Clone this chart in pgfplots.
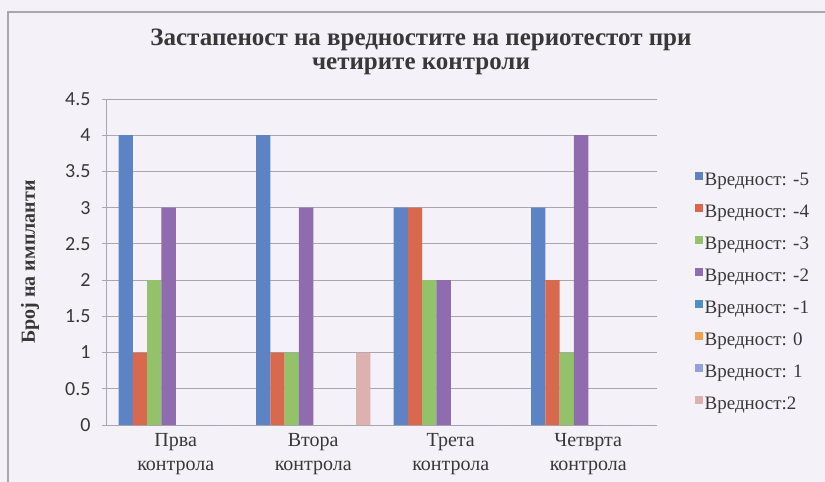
\documentclass[border=0pt]{standalone}
\usepackage{fontspec}
\setmainfont{Liberation Serif}
\newfontfamily\tickfont{Carlito}
\usepackage{pgfplots}
\pgfplotsset{compat=1.18}
\definecolor{bgc}{HTML}{F4F1F8}
\definecolor{cA}{HTML}{5E83C4}
\definecolor{cB}{HTML}{D8684E}
\definecolor{cC}{HTML}{93C26A}
\definecolor{cD}{HTML}{8E6CAE}
\definecolor{cE}{HTML}{4F8FC8}
\definecolor{cF}{HTML}{F0A050}
\definecolor{cG}{HTML}{8FA3DA}
\definecolor{cH}{HTML}{DDB2AE}
\definecolor{txt}{HTML}{383838}
\definecolor{gridc}{HTML}{A8A6AE}
\begin{document}
\begin{tikzpicture}[x=1pt,y=1pt]
\useasboundingbox (0,0) rectangle (825,482);
\fill[bgc] (0,0) rectangle (825,482);
\draw[gridc, line width=1.2pt] (825,470) -- (8,470) -- (8,0);
\node[font=\fontsize{25}{24}\selectfont\bfseries, align=center, text=txt] at (421,430) {Застапеност на вредностите на периотестот при\\четирите контроли};
\begin{axis}[
  at={(107pt,57pt)}, anchor=south west,
  scale only axis, width=550pt, height=326pt,
  ybar=0pt, bar width=14.3pt,
  xmin=-0.5, xmax=3.5, ymin=0, ymax=4.5,
  xtick={0,1,2,3},
  xticklabels={{Прва\\контрола},{Втора\\контрола},{Трета\\контрола},{Четврта\\контрола}},
  xticklabel style={align=center, font=\fontsize{20}{24}\selectfont, text=txt},
  ytick={0,0.5,1,1.5,2,2.5,3,3.5,4,4.5},
  yticklabel style={font=\tickfont\fontsize{20}{22}\selectfont, text=txt, xshift=-8pt},
  /pgf/number format/assume math mode=true,
  axis x line*=bottom, axis y line*=left,
  axis line style={gridc, line width=1pt},
  ymajorgrids, grid style={gridc, line width=0.9pt},
  major tick length=5pt, tick align=outside,
  xtick style={draw=none}, ytick style={gridc, line width=0.9pt},
  ylabel={Број на импланти},
  ylabel style={font=\bfseries\fontsize{20}{24}\selectfont, text=txt, at={(axis description cs:-0.14,0.5)}, anchor=center},
  legend style={at={(1.0636,0.79)}, anchor=north west, draw=none, fill=none,
    font=\fontsize{19}{22}\selectfont, text=txt, row sep=12pt,
    nodes={inner sep=1.5pt, text height=14pt, text depth=3pt}},
  legend cell align=left,
  legend image code/.code={\fill[#1] (0pt,0pt) rectangle (8pt,8pt);},
]
\addplot[fill=cA, draw=none] coordinates {(0,4) (1,4) (2,3) (3,3)};
\addplot[fill=cB, draw=none] coordinates {(0,1) (1,1) (2,3) (3,2)};
\addplot[fill=cC, draw=none] coordinates {(0,2) (1,1) (2,2) (3,1)};
\addplot[fill=cD, draw=none] coordinates {(0,3) (1,3) (2,2) (3,4)};
\addplot[fill=cE, draw=none] coordinates {(0,0) (1,0) (2,0) (3,0)};
\addplot[fill=cF, draw=none] coordinates {(0,0) (1,0) (2,0) (3,0)};
\addplot[fill=cG, draw=none] coordinates {(0,0) (1,0) (2,0) (3,0)};
\addplot[fill=cH, draw=none] coordinates {(0,0) (1,1) (2,0) (3,0)};
\legend{Вредност: -5, Вредност: -4, Вредност: -3, Вредност: -2, Вредност: -1, Вредност: 0, Вредност: 1, Вредност:2}
\end{axis}
\end{tikzpicture}
\end{document}
